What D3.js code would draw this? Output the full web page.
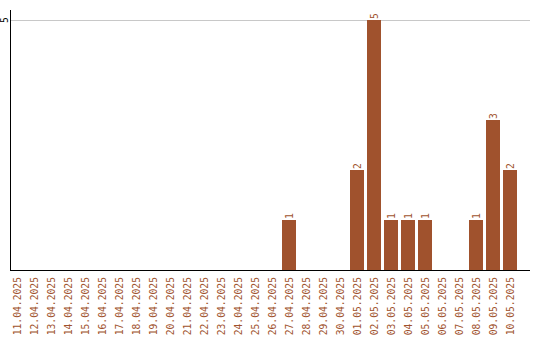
<!DOCTYPE html>
<html lang="en">
<head>
  <meta charset="UTF-8">
  <title>Daily counts</title>
  <script src="https://d3js.org/d3.v7.min.js"></script>
  <style>
    body { margin: 0; background: #fff; }
    text { font-family: "DejaVu Sans Mono", monospace; font-size: 9.7px; }
    .xlab { fill: #a0522d; }
    .vlab { fill: #a0522d; }
  </style>
</head>
<body>
  <svg width="540" height="340"></svg>
  <script>
    const dates = ["11.04.2025","12.04.2025","13.04.2025","14.04.2025","15.04.2025","16.04.2025",
      "17.04.2025","18.04.2025","19.04.2025","20.04.2025","21.04.2025","22.04.2025","23.04.2025",
      "24.04.2025","25.04.2025","26.04.2025","27.04.2025","28.04.2025","29.04.2025","30.04.2025",
      "01.05.2025","02.05.2025","03.05.2025","04.05.2025","05.05.2025","06.05.2025","07.05.2025",
      "08.05.2025","09.05.2025","10.05.2025"];
    const counts = [0,0,0,0,0,0,0,0,0,0,0,0,0,0,0,0,1,0,0,0,2,5,1,1,1,0,0,1,3,2];
    const yTicks = [5];

    const svg = d3.select("svg");
    const color = "#a0522d";

    const x = d3.scaleBand().domain(dates).range([10, 517]).paddingInner(3 / 17).paddingOuter(0);
    const y = d3.scaleLinear().domain([0, 5]).range([270, 20]);

    // gridline
    svg.selectAll(".grid").data(yTicks).enter().append("line")
      .attr("x1", 11).attr("x2", 530)
      .attr("y1", d => y(d)).attr("y2", d => y(d))
      .attr("stroke", "#c8c8c8").attr("stroke-width", 1).attr("shape-rendering", "crispEdges");

    // bars
    const data = dates.map((d, i) => ({ date: d, v: counts[i] }));
    svg.selectAll(".bar").data(data.filter(d => d.v > 0)).enter().append("rect")
      .attr("x", d => x(d.date)).attr("width", x.bandwidth())
      .attr("y", d => y(d.v)).attr("height", d => y(0) - y(d.v))
      .attr("fill", color).attr("shape-rendering", "crispEdges");

    // value labels
    svg.selectAll(".vlab").data(data.filter(d => d.v > 0)).enter().append("text")
      .attr("class", "vlab")
      .attr("transform", d => `translate(${x(d.date) + x.bandwidth() / 2 + 3.5},${y(d.v) - 1}) rotate(-90)`)
      .text(d => d.v);

    // axes lines
    svg.append("line").attr("x1", 10.5).attr("x2", 10.5).attr("y1", 10).attr("y2", 270)
      .attr("stroke", "#000").attr("shape-rendering", "crispEdges");
    svg.append("line").attr("x1", 10).attr("x2", 530).attr("y1", 270.5).attr("y2", 270.5)
      .attr("stroke", "#000").attr("shape-rendering", "crispEdges");

    // y tick labels
    svg.selectAll(".ylab").data(yTicks).enter().append("text")
      .attr("transform", d => `translate(8,${y(d)}) rotate(-90)`)
      .attr("text-anchor", "middle").attr("fill", "#000")
      .text(d => d);

    // x labels
    svg.selectAll(".xlab").data(dates).enter().append("text")
      .attr("class", "xlab")
      .attr("transform", d => `translate(${x(d) + x.bandwidth() / 2 + 3.5},277) rotate(-90)`)
      .attr("text-anchor", "end")
      .text(d => d);
  </script>
</body>
</html>
